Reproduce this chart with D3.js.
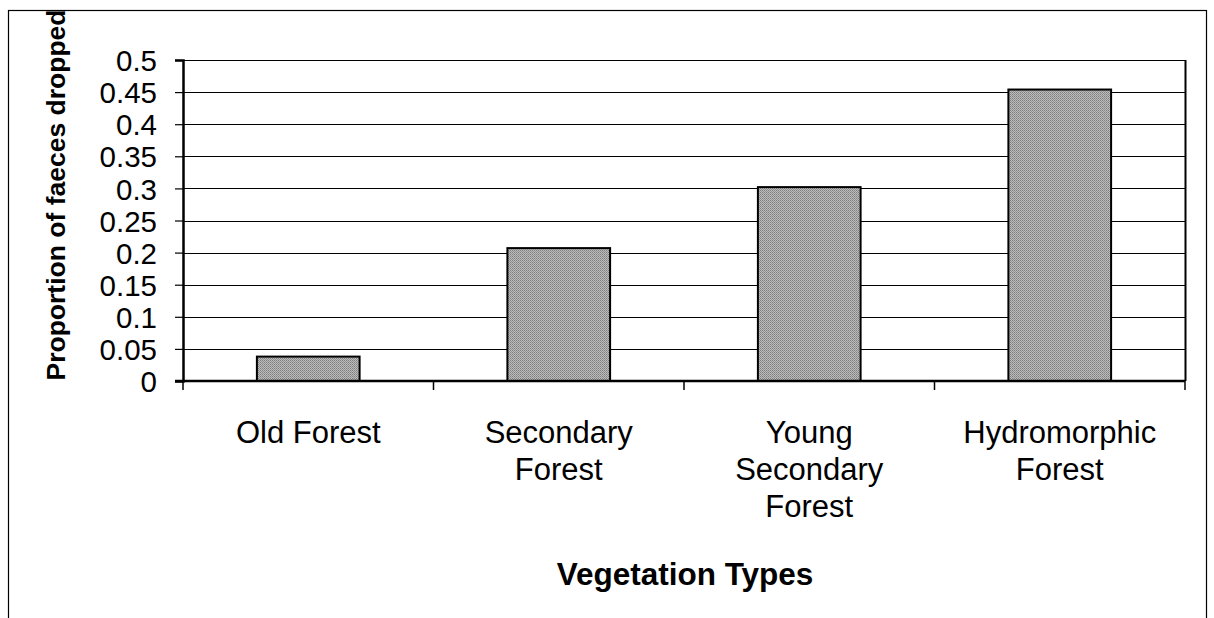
<!DOCTYPE html>
<html>
<head>
<meta charset="utf-8">
<script src="https://cdn.jsdelivr.net/npm/d3@7"></script>
<style>
  body { margin: 0; background: #fff; }
  text { font-family: "Liberation Sans", Arial, sans-serif; fill: #000; }
</style>
</head>
<body>
<script>
// chart data
const categories = ['Old Forest', 'Secondary Forest', 'Young Secondary Forest', 'Hydromorphic Forest']
const categoryLines = [['Old Forest'], ['Secondary', 'Forest'], ['Young', 'Secondary', 'Forest'], ['Hydromorphic', 'Forest']]
const proportions = [0.038, 0.207, 0.302, 0.454]
const yTicks = [0, 0.05, 0.1, 0.15, 0.2, 0.25, 0.3, 0.35, 0.4, 0.45, 0.5]
const yTitle = 'Proportion of faeces dropped'
const xTitle = 'Vegetation Types'

const width = 1214
const height = 618
const plot = { left: 183, top: 60, right: 1185, bottom: 381 }

const svg = d3.select('body').append('svg')
  .attr('width', width)
  .attr('height', height)

// dithered grey fill like the scanned original
const defs = svg.append('defs')
const pat = defs.append('pattern')
  .attr('id', 'dither')
  .attr('width', 2)
  .attr('height', 2)
  .attr('patternUnits', 'userSpaceOnUse')
pat.append('rect').attr('width', 2).attr('height', 2).attr('fill', '#bcbcbc')
pat.append('rect').attr('width', 1).attr('height', 1).attr('fill', '#7e7e7e')
pat.append('rect').attr('x', 1).attr('y', 1).attr('width', 1).attr('height', 1).attr('fill', '#929292')

// outer chart frame
svg.append('rect')
  .attr('x', 8.5).attr('y', 10.5)
  .attr('width', 1198).attr('height', 640)
  .attr('fill', 'none')
  .attr('stroke', '#000')
  .attr('stroke-width', 1.2)

const xScale = d3.scaleBand()
  .domain(categories)
  .range([plot.left, plot.right])
  .paddingInner(0.59)
  .paddingOuter(0.295)

const xBoundary = d3.scaleLinear().domain([0, categories.length]).range([plot.left, plot.right])

const yScale = d3.scaleLinear().domain([0, 0.5]).range([plot.bottom, plot.top])

// gridlines
svg.append('g')
  .selectAll('line')
  .data(yTicks.filter(d => d > 0))
  .enter()
  .append('line')
  .attr('x1', plot.left)
  .attr('x2', plot.right)
  .attr('y1', d => Math.round(yScale(d)) + 0.5)
  .attr('y2', d => Math.round(yScale(d)) + 0.5)
  .attr('stroke', '#000')
  .attr('stroke-width', 1.2)

// right border of plot area
svg.append('line')
  .attr('x1', plot.right + 0.5).attr('x2', plot.right + 0.5)
  .attr('y1', plot.top).attr('y2', plot.bottom)
  .attr('stroke', '#000')
  .attr('stroke-width', 2)

// bars
svg.append('g')
  .selectAll('rect')
  .data(categories)
  .enter()
  .append('rect')
  .attr('x', d => xScale(d))
  .attr('width', xScale.bandwidth())
  .attr('y', (d, i) => yScale(proportions[i]))
  .attr('height', (d, i) => yScale(0) - yScale(proportions[i]))
  .attr('fill', 'url(#dither)')
  .attr('stroke', '#000')
  .attr('stroke-width', 2)

// y axis
const yAxis = d3.axisLeft(yScale)
  .tickValues(yTicks)
  .tickSize(8)
  .tickPadding(18)
  .tickFormat(d => String(+d.toFixed(2)))

const gy = svg.append('g')
  .attr('transform', `translate(${plot.left},0)`)
  .call(yAxis)
gy.select('.domain').attr('stroke', '#000').attr('stroke-width', 2.5)
gy.selectAll('.tick line').attr('stroke', '#000').attr('stroke-width', 1.2)
gy.selectAll('.tick text')
  .attr('font-size', 29.5)
  .attr('font-family', '"Liberation Sans", Arial, sans-serif')
  .attr('dy', '0.36em')

// x axis line and boundary ticks
svg.append('line')
  .attr('x1', plot.left - 8).attr('x2', plot.right)
  .attr('y1', plot.bottom).attr('y2', plot.bottom)
  .attr('stroke', '#000')
  .attr('stroke-width', 2.5)

svg.append('g')
  .selectAll('line')
  .data(d3.range(categories.length + 1))
  .enter()
  .append('line')
  .attr('x1', d => xBoundary(d))
  .attr('x2', d => xBoundary(d))
  .attr('y1', plot.bottom)
  .attr('y2', plot.bottom + 9)
  .attr('stroke', '#000')
  .attr('stroke-width', 1.5)

// category labels
const labels = svg.append('g')
  .selectAll('text')
  .data(categories)
  .enter()
  .append('text')
  .attr('text-anchor', 'middle')
  .attr('font-size', 31)
  .attr('x', d => xScale(d) + xScale.bandwidth() / 2)
  .attr('y', 443)

labels.selectAll('tspan')
  .data((d, i) => categoryLines[i])
  .enter()
  .append('tspan')
  .attr('x', function () { return d3.select(this.parentNode).attr('x') })
  .attr('dy', (d, i) => i === 0 ? 0 : 37)
  .text(d => d)

// axis titles
svg.append('text')
  .attr('text-anchor', 'middle')
  .attr('font-size', 31.5)
  .attr('font-weight', 'bold')
  .attr('x', 685)
  .attr('y', 585)
  .text(xTitle)

svg.append('text')
  .attr('text-anchor', 'middle')
  .attr('font-size', 26.5)
  .attr('font-weight', 'bold')
  .attr('transform', 'translate(65,195) rotate(-90)')
  .text(yTitle)
</script>
</body>
</html>
